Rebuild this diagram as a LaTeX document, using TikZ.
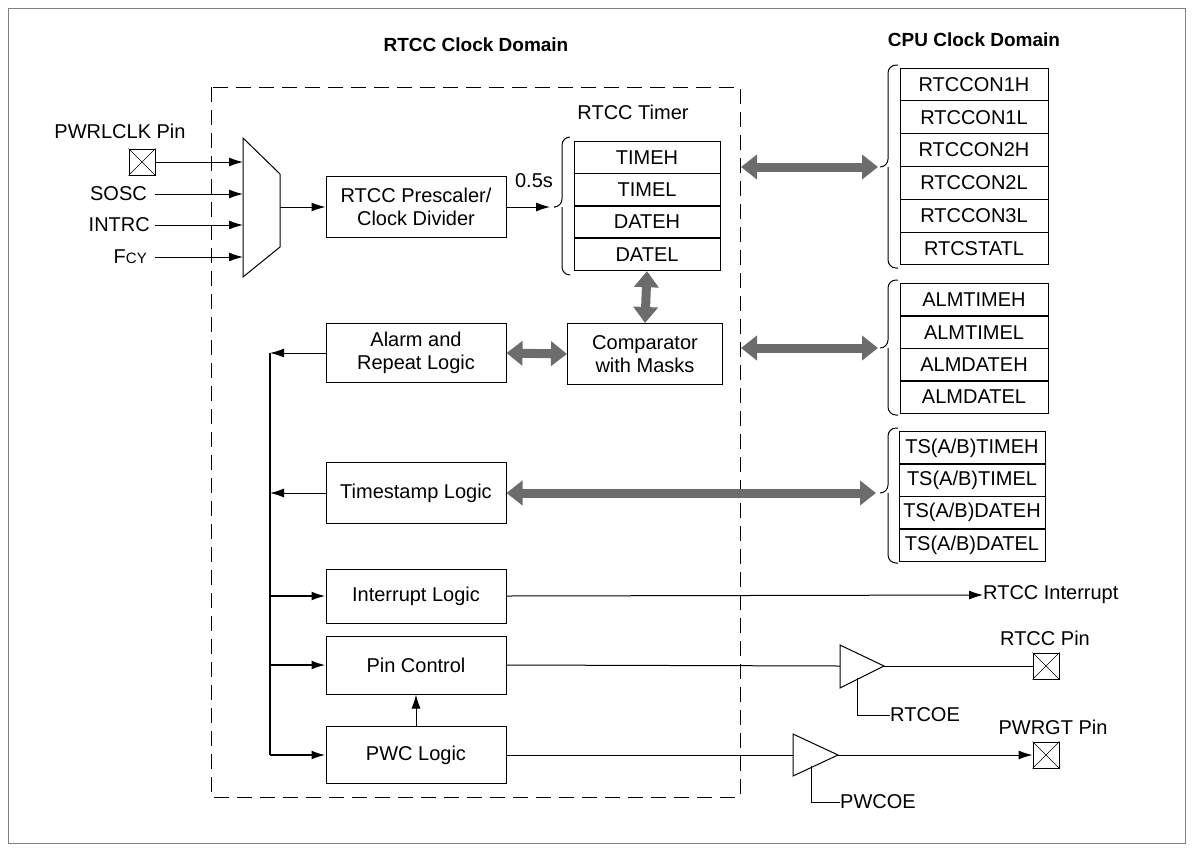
\documentclass[tikz,border=0pt]{standalone}
\usepackage{fontspec}
\setmainfont{Liberation Sans}
\usetikzlibrary{arrows.meta}
\begin{document}
\begin{tikzpicture}[x=1pt,y=-1pt,
  txt/.style={font=\fontsize{20}{23}\selectfont,inner sep=0pt},
  blk/.style={draw,line width=1pt,fill=white},
  reg/.style={draw,line width=1pt,minimum width=148pt,minimum height=32.8pt,inner sep=0pt,font=\fontsize{20}{23}\selectfont},
  ar/.style={-{Latex[length=14pt,width=9pt]},line width=1pt},
  big/.style={{Triangle[length=16pt,width=24pt]}-{Triangle[length=16pt,width=24pt]},line width=9pt,draw=gray!85!black},
  brace/.style={line width=1pt,rounded corners=8pt}]
\useasboundingbox (0,0) rectangle (1193,849);
\draw[gray,line width=1pt] (8,8) rectangle (1185,843);
\draw[dash pattern=on 15pt off 8pt,line width=1pt] (211,87) rectangle (740,797);
\node[txt,font=\bfseries\fontsize{19}{23}\selectfont] (t1) at (476,45) {RTCC Clock Domain};
\node[txt,font=\bfseries\fontsize{19}{23}\selectfont] (t2) at (974,40) {CPU Clock Domain};
% mux
\draw[line width=1pt] (243,138) -- (280,174) -- (280,247) -- (243,277) -- cycle;
\coordinate (mo) at (280,207);
% PWRLCLK pin
\node[draw,line width=1pt,minimum size=26pt,inner sep=0pt] (p1) at (142,162) {};
\draw (p1.north west)--(p1.south east) (p1.north east)--(p1.south west);
\node[txt] (p1l) at (120,131) {PWRLCLK Pin};
\coordinate (m1) at (243,162);
\draw[ar] (p1.east) -- (m1);
\node[txt,anchor=east] (sosc) at (147,194) {SOSC};
\node[txt,anchor=east] (intrc) at (150,225) {INTRC};
\node[txt,anchor=east] (fcy) at (147,257) {F{\fontsize{15}{17}\selectfont CY}};
\coordinate (m2) at (243,194); \coordinate (m3) at (243,225); \coordinate (m4) at (243,257);
\draw[ar] (155,194) -- (m2);
\draw[ar] (155,225) -- (m3);
\draw[ar] (155,257) -- (m4);
% prescaler
\node[blk,txt,minimum width=180pt,minimum height=61pt,align=center] (pre) at (416,207) {RTCC Prescaler/\\Clock Divider};
\draw[ar] (mo) -- (pre.west);
\node[txt] (half) at (534,181) {0.5s};
\coordinate (tin) at (550,207);
\draw[ar] (pre.east) -- (tin);
% RTCC timer
\node[txt] (tl) at (633,112) {RTCC Timer};
\foreach \n [count=\i] in {TIMEH,TIMEL,DATEH,DATEL}{
  \node[reg,minimum width=146pt] (r\i) at (647,{141+16.4+32.3*(\i-1)}) {\n};}
\draw[brace] (570,137) -- (562,137) -- (562,207) -- (555,207) (562,207) -- (562,275) -- (570,275);
% CPU regs
\foreach \n [count=\i] in {RTCCON1H,RTCCON1L,RTCCON2H,RTCCON2L,RTCCON3L,RTCSTATL}{
  \node[reg] (c\i) at (974,{68+16.4+32.8*(\i-1)}) {\n};}
\draw[brace] (898,65) -- (888,65) -- (888,167) -- (880,167) (888,167) -- (888,268) -- (898,268);
\foreach \n [count=\i] in {ALMTIMEH,ALMTIMEL,ALMDATEH,ALMDATEL}{
  \node[reg] (a\i) at (974,{284+16+32.3*(\i-1)}) {\n};}
\draw[brace] (898,280) -- (888,280) -- (888,348) -- (880,348) (888,348) -- (888,415) -- (898,415);
\foreach \n [count=\i] in {TS(A/B)TIMEH,TS(A/B)TIMEL,TS(A/B)DATEH,TS(A/B)DATEL}{
  \node[reg,minimum width=146pt] (s\i) at (972,{432+16+32.3*(\i-1)}) {\n};}
\draw[brace] (898,428) -- (888,428) -- (888,493) -- (880,493) (888,493) -- (888,563) -- (898,563);
% blocks
\node[blk,txt,minimum width=180pt,minimum height=59pt,align=center] (alm) at (416,353) {Alarm and\\Repeat Logic};
\node[blk,txt,minimum width=155pt,minimum height=61pt,align=center] (cmp) at (645,354) {Comparator\\with Masks};
\node[blk,txt,minimum width=180pt,minimum height=61pt] (ts) at (416,493) {Timestamp Logic};
\node[blk,txt,minimum width=180pt,minimum height=54pt] (il) at (416,596) {Interrupt Logic};
\node[blk,txt,minimum width=180pt,minimum height=58pt] (pc) at (416,665) {Pin Control};
\node[blk,txt,minimum width=180pt,minimum height=57pt] (pwc) at (416,755) {PWC Logic};
% big arrows
\coordinate (g1a) at (741,167); \coordinate (g1b) at (878,167);
\coordinate (g2a) at (741,348); \coordinate (g2b) at (878,348);
\coordinate (g3b) at (876,493);
\draw[big] (g1a) -- (g1b);
\draw[big] (g2a) -- (g2b);
\draw[big] (ts.east) -- (g3b);
\draw[big] (alm.east) -- (cmp.west);
\draw[big] (r4.south) -- (cmp.north);
% bus
\coordinate (bt) at (270,353); \coordinate (bb) at (270,755);
\draw[line width=2pt] (bt) -- (bb);
\draw[ar] (alm.west) -- (bt);
\draw[ar] (ts.west) -- (270,493);
\draw[ar,line width=2pt] (270,596) -- (il.west);
\draw[ar,line width=2pt] (270,665) -- (pc.west);
\draw[ar,line width=2pt] (bb) -- (pwc.west);
\draw[ar] (pwc.north) -- (pc.south);
% interrupt
\node[txt,anchor=west] (ri) at (983,595) {RTCC Interrupt};
\draw[ar] (il.east) -- (ri.west);
% RTCC pin buffer
\draw[line width=1pt] (840,645) -- (884,666) -- (840,688) -- cycle;
\coordinate (b1o) at (884,666);
\node[draw,line width=1pt,minimum size=26pt,inner sep=0pt] (p2) at (1046,666) {};
\draw (p2.north west)--(p2.south east) (p2.north east)--(p2.south west);
\node[txt] (p2l) at (1045,638) {RTCC Pin};
\draw[line width=1pt] (pc.east) -- (840,666);
\draw[line width=1pt] (b1o) -- (p2.west);
\node[txt,anchor=west] (rtcoe) at (890,715) {RTCOE};
\draw[line width=1pt] (857,678) |- (rtcoe.west);
% PWRGT pin buffer
\draw[line width=1pt] (793,734) -- (838,755) -- (793,776) -- cycle;
\coordinate (b2o) at (838,755);
\node[draw,line width=1pt,minimum size=26pt,inner sep=0pt] (p3) at (1046,755) {};
\draw (p3.north west)--(p3.south east) (p3.north east)--(p3.south west);
\node[txt] (p3l) at (1053,727) {PWRGT Pin};
\draw[line width=1pt] (pwc.east) -- (793,755);
\draw[ar] (b2o) -- (p3.west);
\node[txt,anchor=west] (pwcoe) at (840,802) {PWCOE};
\draw[line width=1pt] (811,766) |- (pwcoe.west);
\end{tikzpicture}
\end{document}
